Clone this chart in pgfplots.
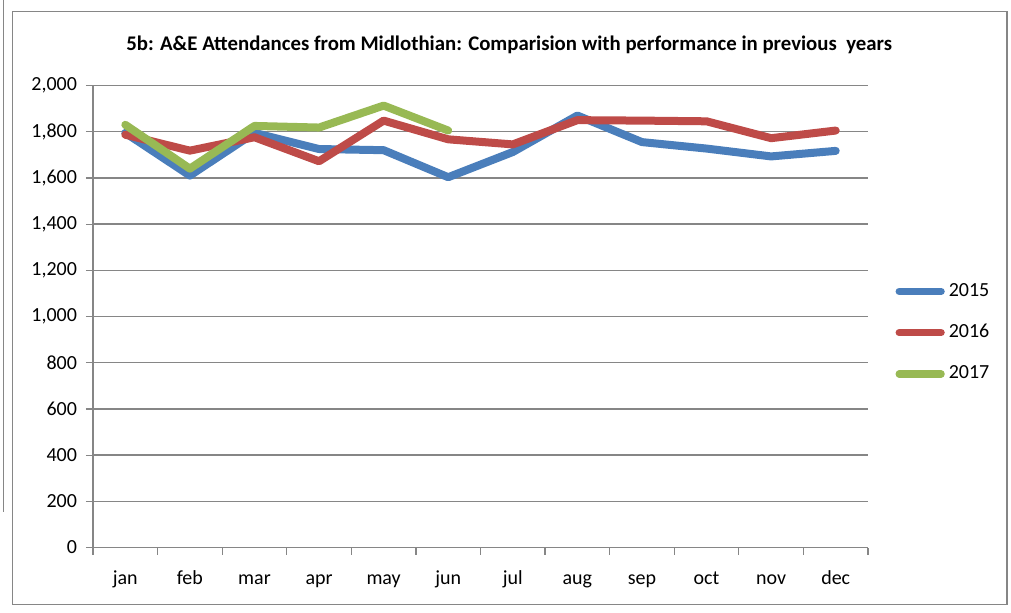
\documentclass[border=0pt]{standalone}
\usepackage{fontspec}
\setmainfont{Carlito}
\usepackage{pgfplots}
\pgfplotsset{compat=1.18}

\definecolor{c15}{HTML}{4A7EBB}
\definecolor{c16}{HTML}{BE4B48}
\definecolor{c17}{HTML}{98B954}
\definecolor{gridc}{HTML}{868686}

\begin{document}
\begin{tikzpicture}
\begin{axis}[
    scale only axis,
    width=387.5pt, height=231pt,
    xmin=-0.5, xmax=11.5,
    ymin=0, ymax=2000,
    ytick={0,200,...,2000},
    xtick={0,...,11},
    xticklabels={jan,feb,mar,apr,may,jun,jul,aug,sep,oct,nov,dec},
    minor xtick={-0.5,0.5,...,11.5},
    major x tick style={draw=none},
    tick align=outside,
    major tick length=3.5pt,
    minor tick length=3.5pt,
    tick style={gridc, line width=0.6pt},
    axis x line*=bottom,
    axis y line*=left,
    axis line style={gridc, line width=0.7pt},
    ymajorgrids,
    major grid style={gridc, line width=0.7pt},
    font=\fontsize{10pt}{12pt}\selectfont,
    ticklabel style={font=\fontsize{10pt}{12pt}\selectfont},
    /pgf/number format/assume math mode=true,
    /pgf/number format/1000 sep={,},
    yticklabel style={xshift=-1pt},
    xticklabel style={yshift=-4.5pt, text height=7pt, text depth=2pt},
    title={\textbf{5b: A\&E Attendances from Midlothian: Comparision with performance in previous\ \ years}},
    every axis title shift=0pt,
    title style={at={(0.537,1.0887)}, anchor=center, font=\fontsize{10.4pt}{12pt}\selectfont},
    legend style={at={(1.035,0.465)}, anchor=west, draw=none, fill=none,
        row sep=8.5pt, font=\fontsize{10pt}{12pt}\selectfont, inner sep=0pt},
    legend cell align=left,
    legend image code/.code={\draw[line width=3.6pt, line cap=round] (0pt,0pt) -- (21pt,0pt);},
    every axis plot/.append style={line width=4pt, line cap=round, line join=round},
    clip=false,
]
\addplot[c15] coordinates {(0,1795) (1,1610) (2,1795) (3,1725) (4,1720) (5,1603) (6,1712) (7,1870) (8,1755) (9,1727) (10,1693) (11,1717)};
\addplot[c16] coordinates {(0,1787) (1,1718) (2,1776) (3,1672) (4,1848) (5,1767) (6,1745) (7,1850) (8,1848) (9,1845) (10,1772) (11,1805)};
\addplot[c17] coordinates {(0,1830) (1,1640) (2,1825) (3,1818) (4,1913) (5,1805)};
\legend{2015,2016,2017}
\draw[gridc, line width=0.6pt] (rel axis cs:-0.1039,-0.1234) rectangle (rel axis cs:1.1794,1.1602);
\draw[gridc, line width=0.5pt] (rel axis cs:-0.1161,1.184) -- (rel axis cs:-0.1161,0.0758);
\path (rel axis cs:-0.12,-0.1407) rectangle (rel axis cs:1.1845,1.184);
\end{axis}
\end{tikzpicture}
\end{document}
